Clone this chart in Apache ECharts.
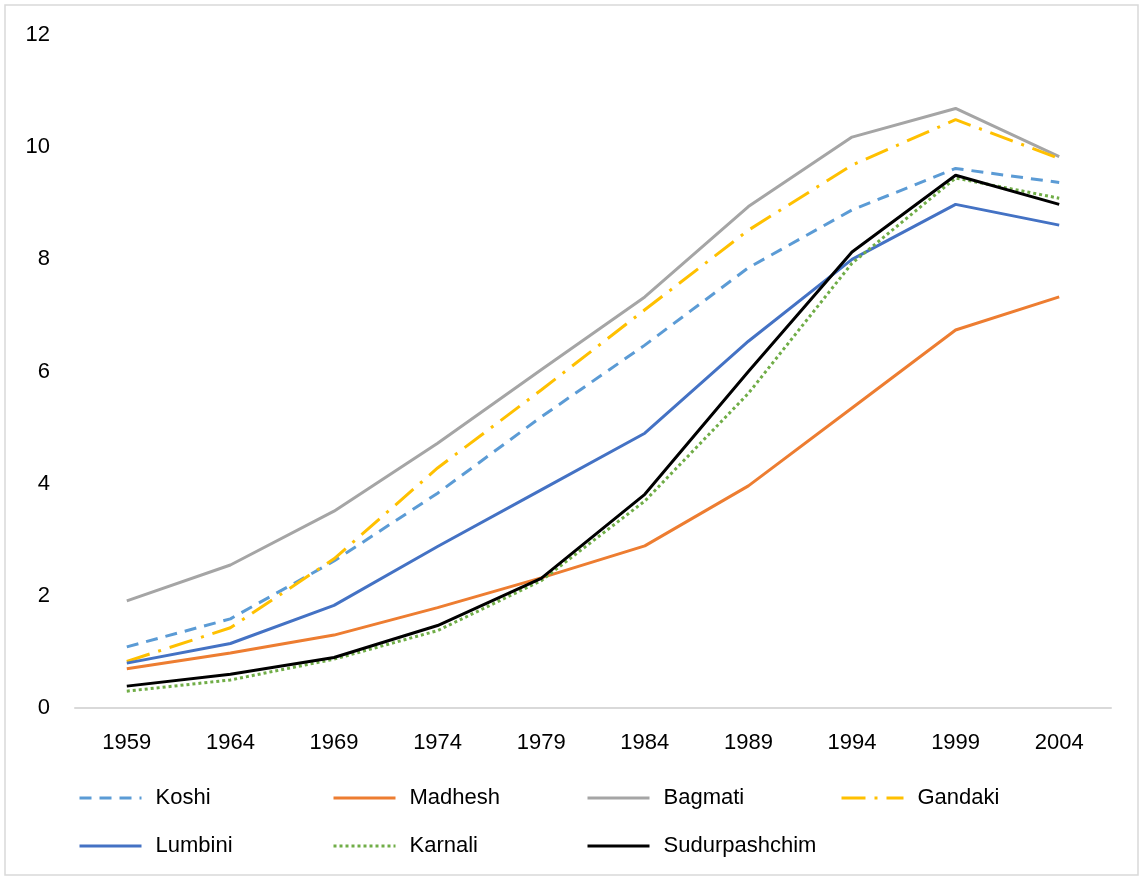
<!DOCTYPE html>
<html><head><meta charset="utf-8">
<script src="https://cdn.jsdelivr.net/npm/echarts@6/dist/echarts.min.js"></script>
<style>html,body{margin:0;padding:0;background:#fff}#c{width:1142px;height:878px}</style>
</head><body><div id="c"></div>
<script>
var years = ['1959','1964','1969','1974','1979','1984','1989','1994','1999','2004'];
var koshi = [1.09, 1.59, 2.62, 3.83, 5.19, 6.47, 7.85, 8.88, 9.62, 9.37];
var madhesh = [0.70, 0.98, 1.30, 1.79, 2.32, 2.89, 3.96, 5.35, 6.74, 7.33];
var bagmati = [1.91, 2.55, 3.51, 4.72, 6.03, 7.33, 8.94, 10.18, 10.69, 9.83];
var gandaki = [0.83, 1.43, 2.66, 4.28, 5.67, 7.10, 8.52, 9.68, 10.49, 9.80];
var lumbini = [0.80, 1.15, 1.83, 2.88, 3.89, 4.90, 6.54, 8.00, 8.98, 8.61];
var karnali = [0.30, 0.50, 0.87, 1.38, 2.27, 3.69, 5.61, 7.93, 9.45, 9.09];
var sudurpashchim = [0.39, 0.60, 0.90, 1.47, 2.31, 3.81, 6.00, 8.13, 9.50, 8.98];
var seriesNames = ['Koshi','Madhesh','Bagmati','Gandaki','Lumbini','Karnali','Sudurpashchim'];
var seriesData = [koshi, madhesh, bagmati, gandaki, lumbini, karnali, sudurpashchim];
var colors = ['#5B9BD5','#ED7D31','#A5A5A5','#FFC000','#4472C4','#70AD47','#000000'];
var dashes = [[12,8],'solid','solid',[24,9,3,9],'solid',[3,3],'solid'];
var legendPos = [[78,787],[332,787],[586,787],[840,787],[78,835],[332,835],[586,835]];
var FONT = 'Liberation Sans';

var chart = echarts.init(document.getElementById('c'));
var series = seriesNames.map(function(n,i){
  return {
    name:n, type:'line', data:seriesData[i], symbol:'none', smooth:false,
    lineStyle:{color:colors[i], width:3, type:dashes[i], cap:'butt'},
    itemStyle:{color:colors[i]}, z: 2+i
  };
});
var legends = seriesNames.map(function(n,i){
  return {
    data:[n], left:legendPos[i][0], top:legendPos[i][1], orient:'horizontal',
    itemWidth:62, itemHeight:14, padding:0,
    itemStyle:{opacity:0},
    lineStyle:{width:3},
    textStyle:{fontSize:22, color:'#000', fontFamily:FONT, padding:[0,0,0,9]}
  };
});
chart.setOption({
  animation:false,
  backgroundColor:'#fff',
  textStyle:{fontFamily:FONT},
  grid:{left:75, right:31, top:35, bottom:170, containLabel:false},
  legend:legends,
  xAxis:{
    type:'category', data:years, boundaryGap:true,
    axisLine:{lineStyle:{color:'#D9D9D9', width:2}},
    axisTick:{show:false},
    axisLabel:{fontSize:22, color:'#000', margin:24, fontFamily:FONT}
  },
  yAxis:{
    type:'value', min:0, max:12, interval:2,
    axisLine:{show:false}, axisTick:{show:false}, splitLine:{show:false},
    axisLabel:{fontSize:22, color:'#000', margin:25, fontFamily:FONT}
  },
  graphic:[{type:'rect', shape:{x:5,y:5,width:1133,height:870}, style:{fill:'none', stroke:'#D9D9D9', lineWidth:1.5}, silent:true}],
  series:series
});
</script></body></html>
